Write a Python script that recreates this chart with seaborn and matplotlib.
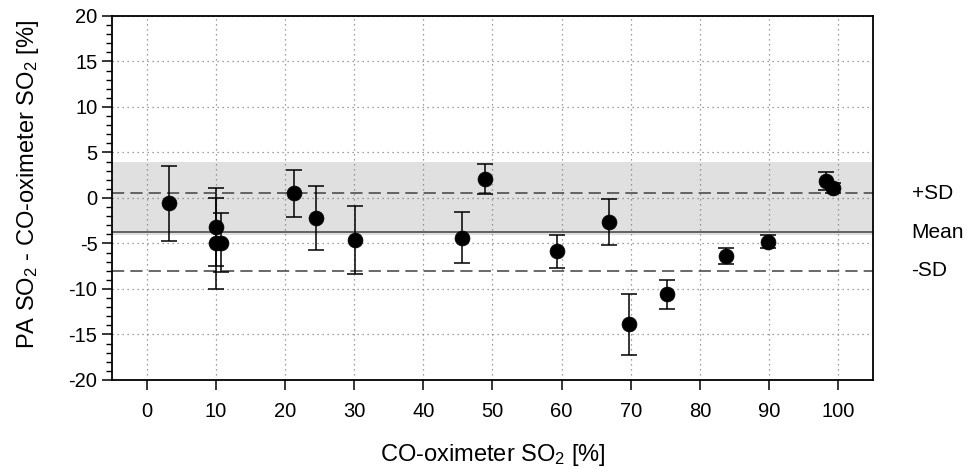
import matplotlib
matplotlib.use("Agg")
import matplotlib.pyplot as plt
from matplotlib.ticker import MultipleLocator
import pandas as pd
import seaborn as sns

# Reference (CO-oximeter) SO2 and difference PA - CO-oximeter, with error half-widths
co_oximeter_so2 = [3.2, 10.0, 10.0, 10.8, 21.3, 24.5, 30.1, 45.6, 48.9, 59.3, 66.9, 69.8, 75.3, 83.8, 89.9, 98.3, 99.2]
so2_difference = [-0.6, -3.2, -5.0, -4.9, 0.5, -2.2, -4.6, -4.35, 2.1, -5.85, -2.65, -13.9, -10.6, -6.4, -4.8, 1.9, 1.1]
difference_err = [4.1, 4.3, 5.0, 3.25, 2.6, 3.55, 3.7, 2.8, 1.65, 1.8, 2.5, 3.3, 1.55, 0.85, 0.7, 1.0, 0.6]

mean_bias = -3.75
plus_sd = 0.5
minus_sd = -8.0
band_limits = (-4.1, 4.0)
ref_labels = ["+SD", "Mean", "-SD"]

sns.set_theme(style="ticks")
plt.rcParams["font.family"] = ["Liberation Sans", "DejaVu Sans"]
plt.rcParams["mathtext.fontset"] = "custom"
plt.rcParams["mathtext.rm"] = "Liberation Sans"
plt.rcParams["mathtext.default"] = "regular"
plt.rcParams["axes.unicode_minus"] = False

df = pd.DataFrame({"CO": co_oximeter_so2, "Diff": so2_difference, "Err": difference_err})

fig = plt.figure(figsize=(9.67, 4.69), dpi=100)
ax = fig.add_axes([0.1158, 0.1898, 0.7867, 0.7761])

ax.axhspan(*band_limits, color="#e0e0e0", lw=0, zorder=0)
ax.grid(True, color="#808080", linestyle=(0, (1, 3)), linewidth=0.9, zorder=1)
ax.set_axisbelow(True)

ax.axhline(plus_sd, color="#404040", linestyle=(0, (8, 4)), linewidth=1.1, zorder=2)
ax.axhline(minus_sd, color="#404040", linestyle=(0, (8, 4)), linewidth=1.1, zorder=2)
ax.axhline(mean_bias, color="#404040", linestyle="-", linewidth=1.1, zorder=2)

ax.errorbar(df["CO"], df["Diff"], yerr=df["Err"], fmt="none", ecolor="black",
            elinewidth=1.1, capsize=6, capthick=1.1, zorder=3)
sns.scatterplot(data=df, x="CO", y="Diff", color="black", s=115, edgecolor="black",
                linewidth=0.5, zorder=4, ax=ax)

ax.set_xlim(-5, 105)
ax.set_ylim(-20, 20)
ax.set_xticks(range(0, 101, 10))
ax.set_yticks(range(-20, 21, 5))
ax.yaxis.set_minor_locator(MultipleLocator(1))
ax.tick_params(axis="both", which="major", direction="out", length=7, width=1.1,
               labelsize=14.5, color="black", labelcolor="black")
ax.tick_params(axis="y", which="minor", direction="out", length=4, width=1.0, color="black")
ax.tick_params(axis="x", pad=9)
for spine in ax.spines.values():
    spine.set_color("black")
    spine.set_linewidth(1.3)

ax.set_xlabel(r"CO-oximeter SO$_2$ [%]", fontsize=17, labelpad=15, color="black")
ax.set_ylabel(r"PA SO$_2$ - CO-oximeter SO$_2$ [%]", fontsize=17, color="black")
ax.yaxis.set_label_coords(-0.093, 0.537)

for label, yval in zip(ref_labels, [plus_sd, mean_bias, minus_sd]):
    ax.annotate(label, xy=(1, yval), xycoords=("axes fraction", "data"),
                xytext=(28, 0), textcoords="offset points", ha="left", va="center",
                fontsize=15, color="black")

fig.savefig("out.png", dpi=100)
